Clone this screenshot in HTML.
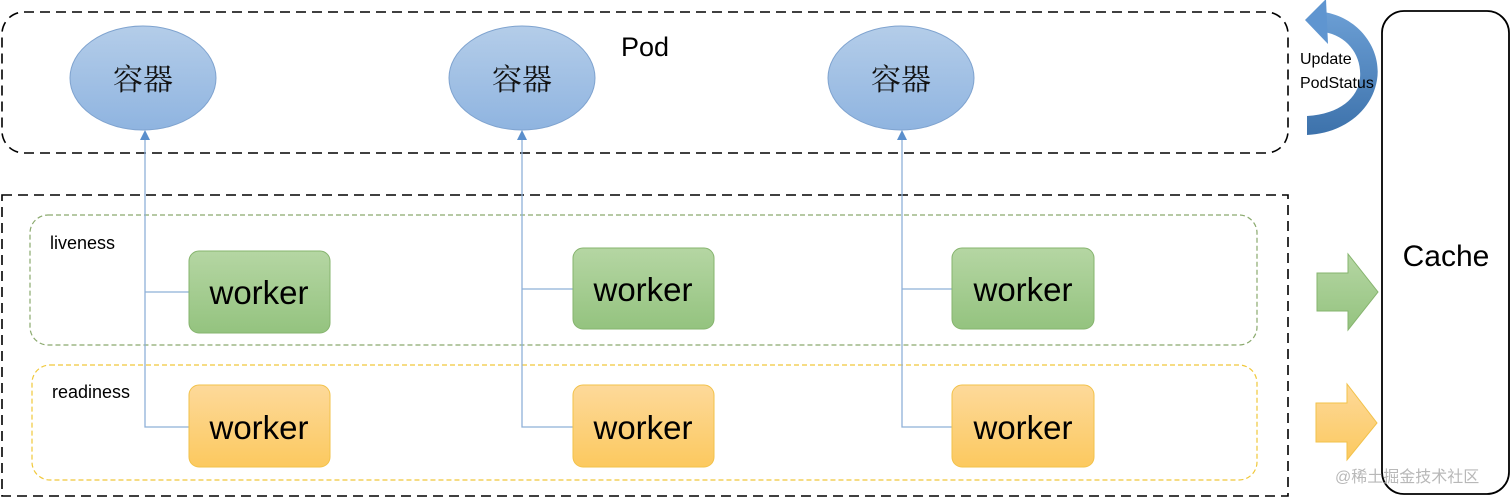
<!DOCTYPE html>
<html><head><meta charset="utf-8"><style>
html,body{margin:0;padding:0;background:#fff;}
svg{display:block;}
text{font-family:"Liberation Sans","Noto Sans CJK SC",sans-serif;}
text.cjk{font-family:"Noto Serif CJK SC","Noto Sans CJK SC",serif;}
</style></head><body>
<svg width="1512" height="499" viewBox="0 0 1512 499" xmlns="http://www.w3.org/2000/svg">
<defs>
<linearGradient id="gb" x1="0" y1="0" x2="0" y2="1"><stop offset="0" stop-color="#b4cde9"/><stop offset="1" stop-color="#8fb4e0"/></linearGradient>
<linearGradient id="gg" x1="0" y1="0" x2="0" y2="1"><stop offset="0" stop-color="#b5d6a3"/><stop offset="1" stop-color="#94c37f"/></linearGradient>
<linearGradient id="gy" x1="0" y1="0" x2="0" y2="1"><stop offset="0" stop-color="#fdd99a"/><stop offset="1" stop-color="#fcc95f"/></linearGradient>
<linearGradient id="gc" x1="0" y1="0" x2="0" y2="1"><stop offset="0" stop-color="#6b9ed4"/><stop offset="1" stop-color="#3d72ab"/></linearGradient>
</defs>
<rect x="2" y="12" width="1286" height="141" rx="22" fill="none" stroke="#000" stroke-width="1.6" stroke-dasharray="10,6"/>
<text x="645" y="56" font-size="27" text-anchor="middle" fill="#000">Pod</text>
<rect x="2" y="195" width="1286" height="301" fill="none" stroke="#000" stroke-width="1.6" stroke-dasharray="10,6"/>
<rect x="30" y="215" width="1227" height="130" rx="18" fill="none" stroke="#8aa96d" stroke-width="1.2" stroke-dasharray="5,3"/>
<text x="50" y="249" font-size="18" fill="#000">liveness</text>
<rect x="32" y="365" width="1225" height="115" rx="18" fill="none" stroke="#f0c83a" stroke-width="1.2" stroke-dasharray="5,3"/>
<text x="52" y="398" font-size="18" fill="#000">readiness</text>
<g stroke="#8eb0d8" stroke-width="1.3" fill="none">
<path d="M145 136 V427 H189 M145 292 H189"/>
<path d="M522 136 V427 H573 M522 289 H573"/>
<path d="M902 136 V427 H952 M902 289 H952"/>
</g>
<g fill="#5b8fcc">
<polygon points="145,130 140,140 150,140"/>
<polygon points="522,130 517,140 527,140"/>
<polygon points="902,130 897,140 907,140"/>
</g>
<g stroke="#7fa3cf" stroke-width="1" fill="url(#gb)">
<ellipse cx="143" cy="78" rx="73" ry="52"/>
<ellipse cx="522" cy="78" rx="73" ry="52"/>
<ellipse cx="901" cy="78" rx="73" ry="52"/>
</g>
<text class="cjk" x="143" y="90" font-size="30" text-anchor="middle" fill="#111">容器</text>
<text class="cjk" x="522" y="90" font-size="30" text-anchor="middle" fill="#111">容器</text>
<text class="cjk" x="901" y="90" font-size="30" text-anchor="middle" fill="#111">容器</text>
<g stroke="#86b46e" stroke-width="1" fill="url(#gg)">
<rect x="189" y="251" width="141" height="82" rx="10"/>
<rect x="573" y="248" width="141" height="81" rx="10"/>
<rect x="952" y="248" width="142" height="81" rx="10"/>
</g>
<g stroke="#f2c24a" stroke-width="1" fill="url(#gy)">
<rect x="189" y="385" width="141" height="82" rx="10"/>
<rect x="573" y="385" width="141" height="82" rx="10"/>
<rect x="952" y="385" width="142" height="82" rx="10"/>
</g>
<g font-size="33" text-anchor="middle" fill="#000">
<text x="259" y="304">worker</text><text x="643" y="301">worker</text><text x="1023" y="301">worker</text>
<text x="259" y="439">worker</text><text x="643" y="439">worker</text><text x="1023" y="439">worker</text>
</g>
<rect x="1382" y="11" width="127" height="483" rx="22" fill="#fff" stroke="#000" stroke-width="1.8"/>
<text x="1446" y="266" font-size="30" text-anchor="middle" fill="#000">Cache</text>
<polygon points="1317,273 1348,273 1348,254 1378,292 1348,330 1348,311 1317,311" fill="url(#gg)" stroke="#86b46e" stroke-width="1"/>
<polygon points="1316,403 1347,403 1347,384 1377,423 1347,460 1347,442 1316,442" fill="url(#gy)" stroke="#f2c24a" stroke-width="1"/>
<!-- curved arrow -->
<path d="M1324,12 C1360,18 1382,50 1377,80 C1372,110 1345,133 1307,135 L1307,116 C1340,114 1358,98 1360,78 C1362,56 1348,36 1324,32 Z" fill="url(#gc)"/>
<polygon points="1305,20 1326,-1 1328,44" fill="#5f95d0"/>
<text x="1300" y="64" font-size="16" fill="#000">Update</text>
<text x="1300" y="88" font-size="16" fill="#000">PodStatus</text>
<text x="1335" y="482" font-size="16" fill="#b8b8b8">@稀土掘金技术社区</text>
</svg>
</body></html>
